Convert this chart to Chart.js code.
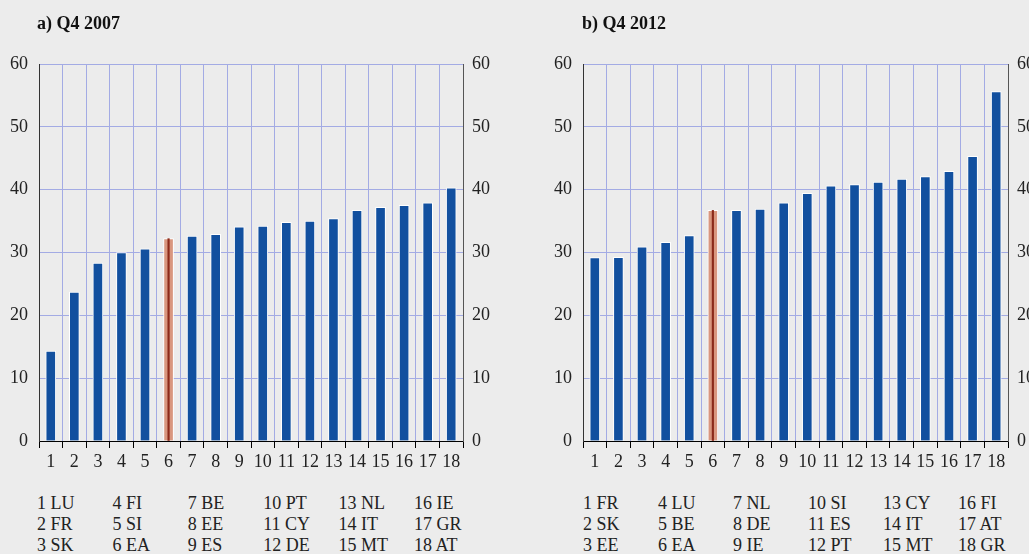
<!DOCTYPE html>
<html>
<head>
<meta charset="utf-8">
<script src="https://cdn.jsdelivr.net/npm/chart.js@4.4.1/dist/chart.umd.min.js"></script>
<style>
  body { margin: 0; background: #ececec; font-family: 'Liberation Serif', serif; color: #222; }
  .wrap { position: absolute; top: 0; }
  .title { position: absolute; top: 13px; font-weight: bold; font-size: 18px; color: #111; }
  .key { position: absolute; font-size: 18px; line-height: 21px; white-space: nowrap; }
</style>
</head>
<body>
<div class="wrap" style="left:0;width:520px;height:480px"><canvas id="chartA" width="520" height="480"></canvas></div>
<div class="wrap" style="left:520px;width:509px;height:480px"><canvas id="chartB" width="509" height="480"></canvas></div>
<div class="title" style="left:37px">a) Q4 2007</div>
<div class="title" style="left:582px">b) Q4 2012</div>
<div id="keyA"></div>
<div id="keyB"></div>
<script>
// bar positions 1..18 shown on the x axis
const tickLabels = ['1','2','3','4','5','6','7','8','9','10','11','12','13','14','15','16','17','18'];

// a) Q4 2007
const countriesA = ['LU','FR','SK','FI','SI','EA','BE','EE','ES','PT','CY','DE','NL','IT','MT','IE','GR','AT'];
const valuesA = [14.3, 23.7, 28.3, 30.0, 30.6, 32.2, 32.6, 32.9, 34.1, 34.2, 34.8, 35.0, 35.4, 36.7, 37.2, 37.5, 37.9, 40.3];

// b) Q4 2012
const countriesB = ['FR','SK','EE','LU','BE','EA','NL','DE','IE','SI','ES','PT','CY','IT','MT','FI','AT','GR'];
const valuesB = [29.2, 29.25, 30.9, 31.6, 32.7, 36.7, 36.7, 36.9, 37.9, 39.4, 40.6, 40.8, 41.2, 41.7, 42.1, 42.9, 45.3, 55.6];

const BLUE = '#12509f';
const SALMON = '#d9977f';
const DARKRED = '#8b2a1a';
const GRID = '#a3abe4';
const font = { family: "'Liberation Serif', serif", size: 18 };

function makeChart(id, countries, values, leftW, rightW) {
  const ctx = document.getElementById(id).getContext('2d');
  return new Chart(ctx, {
    type: 'bar',
    data: {
      labels: tickLabels,
      datasets: [
        {
          // thin dark line through the middle of the euro area bar
          data: values.map((v, i) => countries[i] === 'EA' ? v : null),
          backgroundColor: DARKRED,
          barThickness: 1.5,
          grouped: false,
          order: 0
        },
        {
          data: values,
          backgroundColor: countries.map(c => c === 'EA' ? SALMON : BLUE),
          borderColor: '#ffffff',
          borderWidth: 1,
          barThickness: 10,
          grouped: false,
          order: 1
        }
      ]
    },
    options: {
      responsive: false,
      animation: false,
      layout: { padding: { top: 64 } },
      plugins: { legend: { display: false }, tooltip: { enabled: false } },
      scales: {
        x: {
          grid: { color: GRID, offset: true, tickColor: '#000', tickLength: 7 },
          border: { color: '#000', width: 1 },
          ticks: { font: font, color: '#222', padding: 3, maxRotation: 0, autoSkip: false },
          afterFit: s => { s.height = 39; }
        },
        y: {
          position: 'left',
          min: 0, max: 60,
          ticks: { stepSize: 10, font: font, color: '#222', padding: 11 },
          grid: { color: GRID, drawTicks: false },
          border: { color: '#333', width: 1 },
          afterFit: s => { s.width = leftW; }
        },
        y2: {
          position: 'right',
          min: 0, max: 60,
          ticks: { stepSize: 10, font: font, color: '#222', padding: 9 },
          grid: { drawOnChartArea: false, drawTicks: false },
          border: { color: '#555', width: 1 },
          afterFit: s => { s.width = rightW; }
        }
      }
    }
  });
}

// key under each chart: three rows per column
function makeKey(id, countries, left, step) {
  const el = document.getElementById(id);
  for (let col = 0; col < 6; col++) {
    const div = document.createElement('div');
    div.className = 'key';
    div.style.left = (left + col * step) + 'px';
    div.style.top = '493px';
    const rows = [];
    for (let r = 0; r < 3; r++) {
      const i = col * 3 + r;
      rows.push(tickLabels[i] + ' ' + countries[i]);
    }
    div.innerHTML = rows.join('<br>');
    el.appendChild(div);
  }
}

makeChart('chartA', countriesA, valuesA, 39, 57);
makeChart('chartB', countriesB, valuesB, 63, 21);
makeKey('keyA', countriesA, 37, 75.4);
makeKey('keyB', countriesB, 583, 75);
</script>
</body>
</html>
